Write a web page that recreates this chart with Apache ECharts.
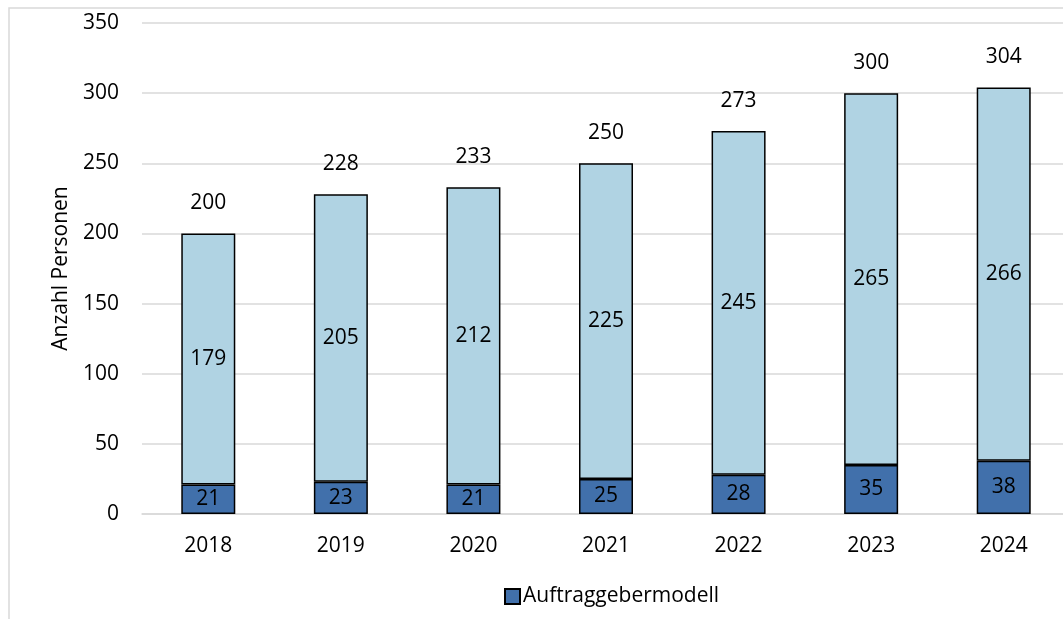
<!DOCTYPE html>
<html>
<head>
	<meta charset="utf-8">
	<title></title>
	<style>
		html, body { margin: 0; padding: 0; background: #fff; overflow: hidden; }
		#box_1 { width: 1070px; height: 619px; }
	</style>
</head>
<body>
	<div id="box_1"></div>
</body>
<script src="https://cdn.jsdelivr.net/npm/echarts@6/dist/echarts.min.js"></script>
<script>
	var years = ['2018', '2019', '2020', '2021', '2022', '2023', '2024']
	var auftraggeber = [21, 23, 21, 25, 28, 35, 38]
	var weitere = [179, 205, 212, 225, 245, 265, 266]
	var gesamt = [200, 228, 233, 250, 273, 300, 304]
	var yTicks = [0, 50, 100, 150, 200, 250, 300, 350]

	var myChart = echarts.init(document.getElementById('box_1'))
	var font = '"Open Sans", "Noto Sans", sans-serif'
	var fs = 21
	var option = {
		animation: false,
		textStyle: { fontFamily: font },
		graphic: [{
			type: 'rect',
			shape: { x: 9, y: 8, width: 1200, height: 800 },
			style: { fill: 'none', stroke: '#d9d9d9', lineWidth: 1.5 },
			silent: true
		}],
		legend: {
			data: [{ name: 'Auftraggebermodell', icon: 'rect' }],
			left: 499,
			top: 581,
			itemWidth: 15,
			itemHeight: 15,
			itemGap: 10,
			textStyle: { color: '#000', fontSize: fs, fontFamily: font, padding: [0, 0, 0, -2] }
		},
		grid: {
			left: 142,
			right: 0,
			top: 23,
			bottom: 105
		},
		xAxis: {
			type: 'category',
			data: years,
			axisTick: { show: false },
			axisLine: { show: true, lineStyle: { color: '#d9d9d9', width: 1.5 } },
			axisLabel: { color: '#000', fontSize: fs, margin: 22, fontFamily: font }
		},
		yAxis: {
			type: 'value',
			min: yTicks[0],
			max: yTicks[yTicks.length - 1],
			interval: 50,
			name: 'Anzahl Personen',
			nameLocation: 'middle',
			nameGap: 70,
			nameTextStyle: { color: '#000', fontSize: fs, fontFamily: font },
			axisLine: { show: false },
			axisTick: { show: false },
			axisLabel: { color: '#000', fontSize: fs, margin: 23, fontFamily: font },
			splitLine: { lineStyle: { color: '#d9d9d9', width: 1.5 } }
		},
		series: [
			{
				name: 'Auftraggebermodell',
				type: 'bar',
				stack: 'a',
				barWidth: 54,
				data: auftraggeber,
				itemStyle: { color: '#4170ab', borderColor: '#000', borderWidth: 1.5 },
				label: { show: true, position: 'inside', color: '#000', fontSize: fs, fontFamily: font }
			},
			{
				name: 'Weitere',
				type: 'bar',
				stack: 'a',
				barWidth: 54,
				data: weitere,
				itemStyle: { color: '#b0d3e3', borderColor: '#000', borderWidth: 1.5 },
				label: { show: true, position: 'inside', color: '#000', fontSize: fs, fontFamily: font }
			},
			{
				// Summe über dem Balken, unsichtbarer Balken
				name: 'Gesamt',
				type: 'bar',
				barWidth: 54,
				barGap: '-100%',
				data: gesamt,
				silent: true,
				itemStyle: { color: 'rgba(0,0,0,0)', borderWidth: 0 },
				label: { show: true, position: 'top', distance: 20, color: '#000', fontSize: fs, fontFamily: font }
			}
		]
	}
	myChart.setOption(option)
</script>
</html>
